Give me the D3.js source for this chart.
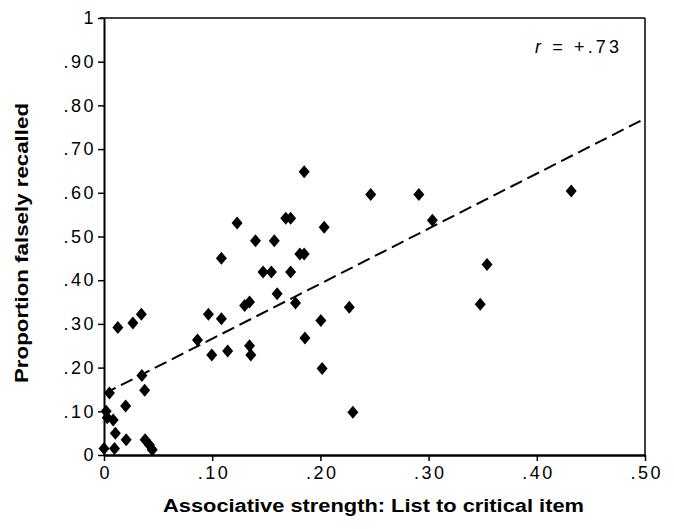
<!DOCTYPE html>
<html>
<head>
<meta charset="utf-8">
<script src="https://cdn.jsdelivr.net/npm/d3@7"></script>
<style>
  body { margin: 0; background: #fff; }
  svg { display: block; font-family: "Liberation Sans", Arial, sans-serif; }
</style>
</head>
<body>
<script>
// associative strength (x) and proportion falsely recalled (y)
var strength = [0, 0.0097, 0.002, 0.003, 0.0085, 0.005, 0.0105, 0.0205, 0.02, 0.0128,
    0.0267, 0.0345, 0.035, 0.0376, 0.038, 0.042, 0.0446, 0.0864, 0.0965, 0.0996,
    0.1085, 0.1085, 0.1143, 0.123, 0.13, 0.1345, 0.1345, 0.1357, 0.14, 0.147,
    0.1547, 0.1574, 0.16, 0.168, 0.1725, 0.1725, 0.177, 0.181, 0.185, 0.185,
    0.1857, 0.2004, 0.2016, 0.2035, 0.2267, 0.23, 0.2465, 0.291, 0.3035, 0.3477,
    0.354, 0.4318];
var falseRecall = [0.015, 0.015, 0.10, 0.085, 0.08, 0.142, 0.05, 0.035, 0.112, 0.292,
    0.302, 0.322, 0.182, 0.148, 0.035, 0.023, 0.012, 0.263, 0.322, 0.229,
    0.312, 0.45, 0.238, 0.531, 0.342, 0.35, 0.25, 0.229, 0.49, 0.419,
    0.419, 0.49, 0.369, 0.542, 0.542, 0.419, 0.348, 0.46, 0.46, 0.648,
    0.268, 0.308, 0.198, 0.521, 0.338, 0.098, 0.596, 0.596, 0.537, 0.345,
    0.436, 0.604];
var fitLine = [[0, 0.14], [0.5, 0.77]];  // regression line end points
var xTicks = [0, 0.1, 0.2, 0.3, 0.4, 0.5];
var xTickLabels = ["0", ".10", ".20", ".30", ".40", ".50"];
var yTicks = [0, 0.1, 0.2, 0.3, 0.4, 0.5, 0.6, 0.7, 0.8, 0.9, 1];
var yTickLabels = ["0", ".10", ".20", ".30", ".40", ".50", ".60", ".70", ".80", ".90", "1"];

var width = 674, height = 529;
var margin = { top: 18, right: 29, bottom: 74, left: 104 };

var svg = d3.select("body").append("svg")
    .attr("width", width)
    .attr("height", height);

var x = d3.scaleLinear().domain([0, 0.5]).range([margin.left, width - margin.right]);
var y = d3.scaleLinear().domain([0, 1]).range([height - margin.bottom, margin.top]);

// frame: top and right lines
svg.append("line")
    .attr("x1", x(0) - 4).attr("x2", x(0.5))
    .attr("y1", y(1)).attr("y2", y(1))
    .attr("stroke", "#000").attr("stroke-width", 1.5);
svg.append("line")
    .attr("x1", x(0.5)).attr("x2", x(0.5))
    .attr("y1", y(1)).attr("y2", y(0))
    .attr("stroke", "#000").attr("stroke-width", 1.5);

// x axis
var xAxis = svg.append("g")
    .attr("transform", "translate(0," + y(0) + ")")
    .call(d3.axisBottom(x).tickValues(xTicks)
        .tickFormat(function (d, i) { return xTickLabels[i]; })
        .tickSize(6).tickSizeOuter(0).tickPadding(5));
xAxis.select(".domain").attr("stroke-width", 2.5);
xAxis.selectAll(".tick line").attr("stroke-width", 1.5);
xAxis.selectAll("text")
    .attr("font-size", 18)
    .attr("letter-spacing", 2.5)
    .attr("dx", 1.25)  // letter-spacing leaves a trailing gap
    .attr("fill", "#000");

// y axis
var yAxis = svg.append("g")
    .attr("transform", "translate(" + x(0) + ",0)")
    .call(d3.axisLeft(y).tickValues(yTicks)
        .tickFormat(function (d, i) { return yTickLabels[i]; })
        .tickSize(6).tickSizeOuter(0).tickPadding(2));
yAxis.select(".domain").attr("stroke-width", 2);
yAxis.selectAll(".tick line").attr("stroke-width", 1.5);
yAxis.selectAll("text")
    .attr("font-size", 18)
    .attr("letter-spacing", 2.5)
    .attr("fill", "#000");

// regression line (dashed)
svg.append("path")
    .datum(fitLine)
    .attr("d", d3.line().x(function (d) { return x(d[0]); }).y(function (d) { return y(d[1]); }))
    .attr("fill", "none")
    .attr("stroke", "#000")
    .attr("stroke-width", 2)
    .attr("stroke-dasharray", "13,6");

// diamond markers
var diamond = "M0,-6.5L5.5,0L0,6.5L-5.5,0Z";
svg.append("g").selectAll("path")
    .data(strength)
    .enter()
    .append("path")
    .attr("d", diamond)
    .attr("transform", function (d, i) {
        return "translate(" + x(d) + "," + y(falseRecall[i]) + ")";
    })
    .attr("fill", "#000");

// correlation label
var rText = svg.append("text")
    .attr("x", 535).attr("y", 53)
    .attr("font-size", 18)
    .attr("textLength", 84)
    .attr("lengthAdjust", "spacing")
    .attr("fill", "#000");
rText.append("tspan").attr("font-style", "italic").text("r");
rText.append("tspan").text(" = +.73");

// axis titles
svg.append("text")
    .attr("x", 163)
    .attr("y", 512)
    .attr("font-size", 18)
    .attr("font-weight", "bold")
    .attr("textLength", 421)
    .attr("lengthAdjust", "spacingAndGlyphs")
    .attr("fill", "#000")
    .text("Associative strength: List to critical item");

svg.append("text")
    .attr("transform", "translate(28,383) rotate(-90)")
    .attr("font-size", 18)
    .attr("font-weight", "bold")
    .attr("textLength", 280)
    .attr("lengthAdjust", "spacingAndGlyphs")
    .attr("fill", "#000")
    .text("Proportion falsely recalled");
</script>
</body>
</html>
